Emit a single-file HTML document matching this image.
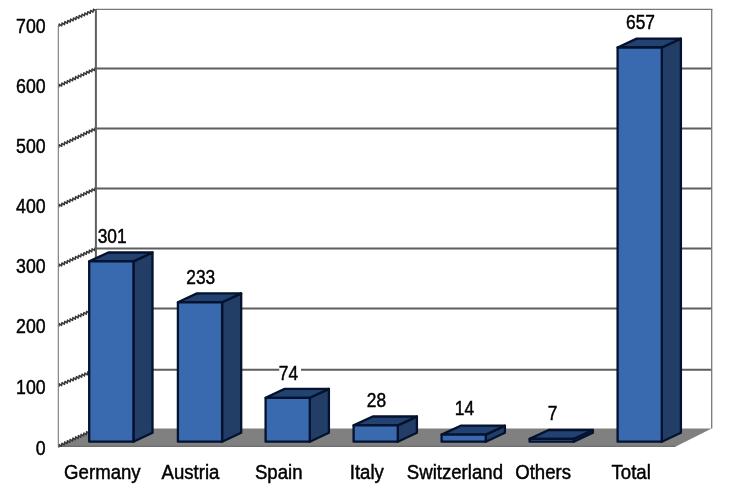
<!DOCTYPE html><html><head><meta charset="utf-8"><title>Chart</title><style>html,body{margin:0;padding:0;background:#fff}svg{display:block;filter:blur(0.35px)}text{font-family:"Liberation Sans",Arial,sans-serif;font-size:19.6px;fill:#000;stroke:#000;stroke-width:0.45px}</style></head><body>
<svg width="737" height="488" viewBox="0 0 737 488">
<rect width="737" height="488" fill="#fff"/>
<polygon points="58.3,446.8 95.9,428.6 711.7,428.6 675.3,446.8" fill="#808080"/>
<line x1="58.3" y1="446.3" x2="675.3" y2="446.3" stroke="#6e6e6e" stroke-width="1.2"/>
<line x1="95.9" y1="9.4" x2="712.3000000000001" y2="9.4" stroke="#777" stroke-width="1.1"/>
<polyline points="58.8,27.0 59.2,24.1 61.7,25.8 62.1,22.9 64.5,24.6 64.9,21.6 67.4,23.3 67.8,20.4 70.2,22.1 70.6,19.1 73.1,20.8 73.5,17.9 75.9,19.6 76.3,16.7 78.8,18.3 79.2,15.4 81.6,17.1 82.1,14.2 84.5,15.8 84.9,12.9 87.3,14.6 87.8,11.7 90.2,13.3 90.6,10.4 93.0,12.1 93.5,9.2 95.9,10.8" fill="none" stroke="#383838" stroke-width="1.5" stroke-linejoin="round"/>
<line x1="95.9" y1="68.4" x2="711.7" y2="68.4" stroke="#5e5e5e" stroke-width="2"/>
<polyline points="58.8,87.3 59.1,84.4 61.6,86.0 61.9,83.1 64.3,84.7 64.6,81.8 67.1,83.4 67.4,80.5 69.8,82.1 70.1,79.2 72.6,80.8 72.9,77.9 75.3,79.6 75.6,76.6 78.1,78.3 78.4,75.3 80.8,77.0 81.1,74.1 83.6,75.7 83.9,72.8 86.3,74.4 86.6,71.5 89.1,73.1 89.4,70.2 91.8,71.8 92.1,68.9 94.6,70.5 94.9,67.6" fill="none" stroke="#383838" stroke-width="1.5" stroke-linejoin="round"/>
<line x1="95.9" y1="128.4" x2="711.7" y2="128.4" stroke="#5e5e5e" stroke-width="2"/>
<polyline points="58.8,147.6 59.1,144.7 61.6,146.3 61.9,143.4 64.3,145.0 64.6,142.1 67.1,143.7 67.4,140.8 69.8,142.4 70.1,139.4 72.6,141.0 72.9,138.1 75.3,139.7 75.6,136.8 78.1,138.4 78.4,135.5 80.8,137.1 81.1,134.2 83.6,135.8 83.9,132.8 86.3,134.4 86.6,131.5 89.1,133.1 89.4,130.2 91.8,131.8 92.1,128.9 94.6,130.5 94.9,127.6" fill="none" stroke="#383838" stroke-width="1.5" stroke-linejoin="round"/>
<line x1="95.9" y1="188.4" x2="711.7" y2="188.4" stroke="#5e5e5e" stroke-width="2"/>
<polyline points="58.8,207.4 59.1,204.5 61.6,206.1 61.9,203.2 64.3,204.8 64.6,201.9 67.1,203.5 67.4,200.6 69.8,202.2 70.1,199.3 72.6,200.9 72.9,198.0 75.3,199.6 75.6,196.7 78.1,198.3 78.4,195.4 80.8,197.0 81.1,194.1 83.6,195.7 83.9,192.8 86.3,194.4 86.6,191.5 89.1,193.1 89.4,190.2 91.8,191.8 92.1,188.9 94.6,190.5 94.9,187.6" fill="none" stroke="#383838" stroke-width="1.5" stroke-linejoin="round"/>
<line x1="95.9" y1="248.4" x2="711.7" y2="248.4" stroke="#5e5e5e" stroke-width="2"/>
<polyline points="58.8,267.1 59.1,264.2 61.6,265.9 61.9,262.9 64.3,264.6 64.6,261.7 67.1,263.3 67.4,260.4 69.8,262.0 70.1,259.1 72.6,260.7 72.9,257.8 75.3,259.4 75.6,256.5 78.1,258.2 78.4,255.3 80.8,256.9 81.1,254.0 83.6,255.6 83.9,252.7 86.3,254.3 86.6,251.4 89.1,253.0 89.4,250.1 91.8,251.8 92.1,248.8 94.6,250.5 94.9,247.6" fill="none" stroke="#383838" stroke-width="1.5" stroke-linejoin="round"/>
<line x1="95.9" y1="308.4" x2="711.7" y2="308.4" stroke="#5e5e5e" stroke-width="2"/>
<polyline points="58.8,326.6 59.2,323.7 61.6,325.4 61.9,322.5 64.3,324.1 64.7,321.3 67.1,322.9 67.4,320.0 69.8,321.7 70.2,318.8 72.6,320.4 72.9,317.5 75.3,319.2 75.6,316.3 78.1,317.9 78.4,315.0 80.8,316.7 81.1,313.8 83.5,315.4 83.9,312.5 86.3,314.2 86.6,311.3 89.0,312.9 89.4,310.1 91.8,311.7 92.1,308.8 94.5,310.5 94.9,307.6" fill="none" stroke="#383838" stroke-width="1.5" stroke-linejoin="round"/>
<line x1="95.9" y1="369.7" x2="711.7" y2="369.7" stroke="#5e5e5e" stroke-width="2"/>
<polyline points="58.8,386.8 59.2,383.8 61.6,385.6 62.1,382.6 64.5,384.4 65.0,381.4 67.3,383.2 67.8,380.2 70.2,382.0 70.7,379.0 73.1,380.8 73.5,377.8 75.9,379.6 76.4,376.6 78.8,378.4 79.2,375.4 81.6,377.2 82.1,374.2 84.5,376.0 84.9,373.0 87.3,374.8 87.8,371.8 90.2,373.6 90.6,370.6 93.0,372.4 93.5,369.4 95.9,371.2" fill="none" stroke="#383838" stroke-width="1.5" stroke-linejoin="round"/>
<polyline points="58.8,447.5 59.1,444.6 61.6,446.2 61.9,443.3 64.3,444.9 64.6,442.0 67.1,443.6 67.4,440.7 69.8,442.3 70.1,439.4 72.6,441.0 72.9,438.1 75.3,439.8 75.6,436.8 78.1,438.5 78.4,435.5 80.8,437.2 81.1,434.3 83.6,435.9 83.9,433.0 86.3,434.6 86.6,431.7 89.1,433.3 89.4,430.4 91.8,432.0 92.1,429.1 94.6,430.7 94.9,427.8" fill="none" stroke="#383838" stroke-width="1.5" stroke-linejoin="round"/>
<line x1="58.3" y1="25.9" x2="58.3" y2="446.8" stroke="#777" stroke-width="1.1"/>
<line x1="95.9" y1="8.9" x2="95.9" y2="428.6" stroke="#5e5e5e" stroke-width="2"/>
<line x1="711.7" y1="8.9" x2="711.7" y2="428.6" stroke="#777" stroke-width="1.3"/>
<text transform="translate(45.7 33.2) scale(0.905 1)" text-anchor="end">700</text>
<text transform="translate(45.7 93.2) scale(0.905 1)" text-anchor="end">600</text>
<text transform="translate(45.7 153.3) scale(0.905 1)" text-anchor="end">500</text>
<text transform="translate(45.7 213.3) scale(0.905 1)" text-anchor="end">400</text>
<text transform="translate(45.7 273.4) scale(0.905 1)" text-anchor="end">300</text>
<text transform="translate(45.7 333.4) scale(0.905 1)" text-anchor="end">200</text>
<text transform="translate(45.7 393.5) scale(0.905 1)" text-anchor="end">100</text>
<text transform="translate(45.7 454.5) scale(0.905 1)" text-anchor="end">0</text>
<polygon points="133.4,261.4 152.5,252.5 152.5,432.8 133.4,441.7" fill="#223e66" stroke="#04122e" stroke-width="2.3" stroke-linejoin="round"/>
<polygon points="89.2,261.4 108.3,252.5 152.5,252.5 133.4,261.4" fill="#224272" stroke="#04122e" stroke-width="2.3" stroke-linejoin="round"/>
<polygon points="89.2,261.4 133.4,261.4 133.4,441.7 89.2,441.7" fill="#396ab0" stroke="#04122e" stroke-width="2.3" stroke-linejoin="round"/>
<rect x="98.0" y="227.5" width="31.3" height="19" fill="#fff"/>
<text transform="translate(112.1 243.0) scale(0.885 1)" text-anchor="middle">301</text>
<text transform="translate(102.4 479.0) scale(0.95 1)" text-anchor="middle">Germany</text>
<polygon points="222.1,302.3 241.2,293.4 241.2,432.8 222.1,441.7" fill="#223e66" stroke="#04122e" stroke-width="2.3" stroke-linejoin="round"/>
<polygon points="177.9,302.3 197.0,293.4 241.2,293.4 222.1,302.3" fill="#224272" stroke="#04122e" stroke-width="2.3" stroke-linejoin="round"/>
<polygon points="177.9,302.3 222.1,302.3 222.1,441.7 177.9,441.7" fill="#396ab0" stroke="#04122e" stroke-width="2.3" stroke-linejoin="round"/>
<rect x="186.7" y="268.7" width="31.3" height="19" fill="#fff"/>
<text transform="translate(200.8 284.2) scale(0.885 1)" text-anchor="middle">233</text>
<text transform="translate(190.5 479.0) scale(0.95 1)" text-anchor="middle">Austria</text>
<polygon points="309.8,397.8 328.9,388.9 328.9,432.8 309.8,441.7" fill="#223e66" stroke="#04122e" stroke-width="2.3" stroke-linejoin="round"/>
<polygon points="265.6,397.8 284.7,388.9 328.9,388.9 309.8,397.8" fill="#224272" stroke="#04122e" stroke-width="2.3" stroke-linejoin="round"/>
<polygon points="265.6,397.8 309.8,397.8 309.8,441.7 265.6,441.7" fill="#396ab0" stroke="#04122e" stroke-width="2.3" stroke-linejoin="round"/>
<rect x="279.3" y="364.2" width="21.7" height="19" fill="#fff"/>
<text transform="translate(288.5 379.7) scale(0.885 1)" text-anchor="middle">74</text>
<text transform="translate(278.7 479.0) scale(0.95 1)" text-anchor="middle">Spain</text>
<polygon points="397.8,425.4 416.9,416.5 416.9,432.8 397.8,441.7" fill="#223e66" stroke="#04122e" stroke-width="2.3" stroke-linejoin="round"/>
<polygon points="353.6,425.4 372.7,416.5 416.9,416.5 397.8,425.4" fill="#224272" stroke="#04122e" stroke-width="2.3" stroke-linejoin="round"/>
<polygon points="353.6,425.4 397.8,425.4 397.8,441.7 353.6,441.7" fill="#396ab0" stroke="#04122e" stroke-width="2.3" stroke-linejoin="round"/>
<rect x="367.3" y="391.5" width="21.7" height="19" fill="#fff"/>
<text transform="translate(376.5 407.0) scale(0.885 1)" text-anchor="middle">28</text>
<text transform="translate(366.8 479.0) scale(0.95 1)" text-anchor="middle">Italy</text>
<polygon points="485.8,434.6 504.9,425.7 504.9,432.8 485.8,441.7" fill="#223e66" stroke="#04122e" stroke-width="2.3" stroke-linejoin="round"/>
<polygon points="441.6,434.6 460.7,425.7 504.9,425.7 485.8,434.6" fill="#224272" stroke="#04122e" stroke-width="2.3" stroke-linejoin="round"/>
<polygon points="441.6,434.6 485.8,434.6 485.8,441.7 441.6,441.7" fill="#396ab0" stroke="#04122e" stroke-width="2.3" stroke-linejoin="round"/>
<rect x="455.3" y="399.6" width="21.7" height="19" fill="#fff"/>
<text transform="translate(464.5 415.1) scale(0.885 1)" text-anchor="middle">14</text>
<text transform="translate(454.9 479.0) scale(0.95 1)" text-anchor="middle">Switzerland</text>
<polygon points="573.8,438.9 592.9,430.0 592.9,432.8 573.8,441.7" fill="#223e66" stroke="#04122e" stroke-width="2.3" stroke-linejoin="round"/>
<polygon points="529.6,438.9 548.7,430.0 592.9,430.0 573.8,438.9" fill="#224272" stroke="#04122e" stroke-width="2.3" stroke-linejoin="round"/>
<polygon points="529.6,438.9 573.8,438.9 573.8,441.7 529.6,441.7" fill="#396ab0" stroke="#04122e" stroke-width="2.3" stroke-linejoin="round"/>
<rect x="548.1" y="404.0" width="12.0" height="19" fill="#fff"/>
<text transform="translate(552.5 419.5) scale(0.885 1)" text-anchor="middle">7</text>
<text transform="translate(543.1 479.0) scale(0.95 1)" text-anchor="middle">Others</text>
<polygon points="661.8,47.5 680.9,38.6 680.9,432.8 661.8,441.7" fill="#223e66" stroke="#04122e" stroke-width="2.3" stroke-linejoin="round"/>
<polygon points="617.6,47.5 636.7,38.6 680.9,38.6 661.8,47.5" fill="#224272" stroke="#04122e" stroke-width="2.3" stroke-linejoin="round"/>
<polygon points="617.6,47.5 661.8,47.5 661.8,441.7 617.6,441.7" fill="#396ab0" stroke="#04122e" stroke-width="2.3" stroke-linejoin="round"/>
<rect x="626.4" y="13.7" width="31.3" height="19" fill="#fff"/>
<text transform="translate(640.5 29.2) scale(0.885 1)" text-anchor="middle">657</text>
<text transform="translate(631.2 479.0) scale(0.95 1)" text-anchor="middle">Total</text>
</svg></body></html>
